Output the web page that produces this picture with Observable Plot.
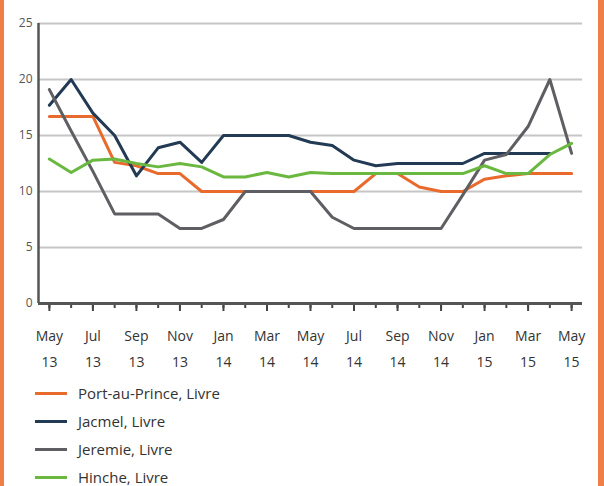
<!DOCTYPE html>
<html>
<head>
<meta charset="utf-8">
<script src="https://cdn.jsdelivr.net/npm/d3@7"></script>
<script src="https://cdn.jsdelivr.net/npm/@observablehq/plot@0.6"></script>
<style>
  html, body { margin: 0; padding: 0; background: #fff; }
  #wrap { position: relative; width: 604px; height: 486px; overflow: hidden; background: #fff; font-family: "Open Sans", sans-serif; }
  .edge { position: absolute; top: 0; height: 486px; background: #ef7f47; }
  #legend { position: absolute; left: 0; top: 379px; }
  .item { display: flex; align-items: center; height: 28px; }
  .sw { width: 32px; height: 3px; margin-left: 35px; margin-right: 11px; }
  .lab { font-size: 15px; color: #333; }
</style>
</head>
<body>
<div id="wrap">
  <div id="chart"></div>
  <div id="legend"></div>
  <div class="edge" style="left:0;width:4px"></div>
  <div class="edge" style="left:598px;width:6px"></div>
</div>
<script>
// Month index 0 = May 2013 ... 24 = May 2015
const monthNames = ["May","Jun","Jul","Aug","Sep","Oct","Nov","Dec","Jan","Feb","Mar","Apr","May","Jun","Jul","Aug","Sep","Oct","Nov","Dec","Jan","Feb","Mar","Apr","May"];
const yearNames  = ["13","13","13","13","13","13","13","13","14","14","14","14","14","14","14","14","14","14","14","14","15","15","15","15","15"];
const majorTicks = [0,2,4,6,8,10,12,14,16,18,20,22,24];
const yTicks = [0,5,10,15,20,25];

const seriesNames = ["Port-au-Prince, Livre","Jacmel, Livre","Jeremie, Livre","Hinche, Livre"];
const seriesColors = ["#e96a2d","#233a55","#5e5e63","#6ab83f"];

const portAuPrince = [16.7,16.7,16.7,12.6,12.3,11.6,11.6,10,10,10,10,10,10,10,10,11.6,11.6,10.4,10,10,11.1,11.4,11.6,11.6,11.6];
const jacmel       = [17.7,20,17,15,11.4,13.9,14.4,12.6,15,15,15,15,14.4,14.1,12.8,12.3,12.5,12.5,12.5,12.5,13.4,13.4,13.4,13.4,null];
const jeremie      = [19.1,15.4,11.8,8,8,8,6.7,6.7,7.5,10,10,10,10,7.7,6.7,6.7,6.7,6.7,6.7,9.7,12.8,13.3,15.8,20,13.4];
const hinche       = [12.9,11.7,12.8,12.9,12.5,12.2,12.5,12.2,11.3,11.3,11.7,11.3,11.7,11.6,11.6,11.6,11.6,11.6,11.6,11.6,12.3,11.6,11.6,13.3,14.3];

const allSeries = [portAuPrince, jacmel, jeremie, hinche];
const rows = [];
allSeries.forEach((vals, s) => {
  vals.forEach((v, i) => { if (v != null) rows.push({series: seriesNames[s], i, v}); });
});
const allIdx = monthNames.map((_, i) => i);

const chart = Plot.plot({
  width: 604,
  height: 370,
  marginTop: 23,
  marginBottom: 67,
  marginLeft: 38,
  marginRight: 22,
  style: {fontFamily: "Open Sans, sans-serif", background: "transparent"},
  x: {domain: [-0.5, 24.5], axis: null},
  y: {domain: [0, 25], axis: null},
  color: {domain: seriesNames, range: seriesColors},
  marks: [
    Plot.ruleY(yTicks.filter(d => d > 0), {stroke: "#c6c6c6", strokeWidth: 2}),
    Plot.axisY({ticks: yTicks, tickSize: 0, tickPadding: 6, fontSize: 12, fill: "#555", label: null}),
    Plot.axisX({ticks: allIdx, tickSize: 5, tickFormat: () => "", stroke: "#444", strokeWidth: 2, label: null}),
    Plot.axisX({ticks: majorTicks, tickSize: 8, tickFormat: () => "", stroke: "#444", strokeWidth: 2, label: null}),
    Plot.text(majorTicks, {
      x: d => d, frameAnchor: "bottom", dy: 20, lineAnchor: "top", lineHeight: 1.8,
      text: d => monthNames[d] + "\n" + yearNames[d], fontSize: 14, fill: "#333"
    }),
    ...seriesNames.map(name => Plot.line(rows.filter(r => r.series === name), {
      x: "i", y: "v", stroke: "series", strokeWidth: 3, strokeLinejoin: "round"
    })),
    Plot.ruleX([-0.5], {y1: 0, y2: 25, stroke: "#555", strokeWidth: 2.5}),
    Plot.ruleY([0], {stroke: "#555", strokeWidth: 3})
  ]
});
document.getElementById("chart").appendChild(chart);

const legend = document.getElementById("legend");
seriesNames.forEach((name, k) => {
  const it = document.createElement("div");
  it.className = "item";
  it.innerHTML = `<span class="sw" style="background:${seriesColors[k]}"></span><span class="lab">${name}</span>`;
  legend.appendChild(it);
});
</script>
</body>
</html>
